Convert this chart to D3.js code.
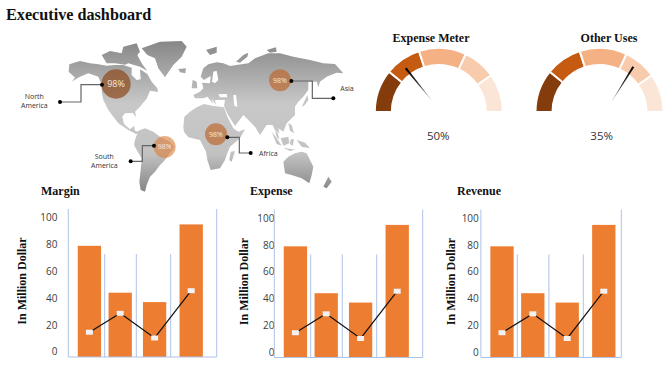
<!doctype html>
<html lang="en">

<head>
    <meta charset="utf-8">
    <title>Executive dashboard</title>
    <script src="https://cdn.jsdelivr.net/npm/d3@7"></script>
    <style>
        body { margin: 0; background: #fff; }
        svg { display: block; }
        .serif { font-family: "Liberation Serif", serif; font-weight: bold; fill: #111; }
        .sans { font-family: "Open Sans", sans-serif; fill: #333; }
    </style>
</head>

<body>
    <svg></svg>
    <script>
        var width = 670;
        var height = 376;

        // column charts, same numbers on all three panels
        var categories = ['A', 'B', 'C', 'D'];
        var yTicks = [0, 20, 40, 60, 80, 100];
        var marginBars = [79, 44, 37, 95];
        var marginLine = [14.5, 28.6, 10.2, 45.5];
        var expenseBars = [79, 44, 37, 95];
        var expenseLine = [14.5, 28.6, 10.2, 45.5];
        var revenueBars = [79, 44, 37, 95];
        var revenueLine = [14.5, 28.6, 10.2, 45.5];

        // gauges: band sizes in degrees of the half circle
        var gaugeBands = [39, 33, 43, 30, 35];
        var gaugeColors = ['#843c0c', '#c55a11', '#f4b183', '#f8cbad', '#fbe5d6'];
        var gaugeNames = ['Expense Meter', 'Other Uses'];
        var gaugeLabels = ['50%', '35%'];
        var needleDegrees = [-39, 31.7];

        // map regions, outlines in map units
        var regionNames = ['North America', 'South America', 'Africa', 'Asia'];
        var regionValues = ['98%', '98%', '98%', '98%'];

        var northAmerica = [[208, 193], [240, 183], [270, 190], [295, 193], [320, 197], [345, 195], [370, 195], [395, 203], [395, 225], [410, 240], [422, 238], [420, 208], [442, 222], [455, 245], [472, 265], [474, 276], [450, 272], [440, 296], [420, 320], [405, 335], [409, 352], [398, 339], [375, 340], [367, 350], [372, 372], [390, 388], [402, 378], [405, 392], [425, 398], [408, 402], [385, 390], [355, 370], [340, 350], [325, 330], [310, 300], [305, 275], [305, 255], [295, 230], [265, 220], [240, 230], [215, 245], [225, 233], [206, 215]];
        var arcticCanada = [[305, 165], [330, 153], [365, 160], [370, 140], [410, 130], [420, 155], [412, 165], [425, 190], [442, 213], [420, 200], [402, 195], [385, 190], [375, 194], [345, 190], [320, 190]];
        var greenland = [[425, 145], [480, 125], [545, 123], [560, 140], [545, 170], [520, 195], [495, 232], [475, 205], [465, 175], [442, 165]];
        var iceland = [[535, 207], [558, 205], [556, 220], [540, 217]];
        var southAmerica = [[405, 420], [415, 392], [435, 385], [460, 395], [480, 410], [510, 425], [523, 440], [510, 460], [495, 480], [480, 495], [465, 515], [450, 530], [440, 555], [435, 575], [422, 570], [418, 545], [422, 510], [425, 475], [410, 450], [402, 435]];
        var africa = [[550, 380], [553, 350], [570, 335], [590, 322], [612, 312], [640, 318], [672, 322], [682, 350], [700, 385], [715, 395], [735, 388], [720, 415], [690, 440], [682, 460], [675, 480], [660, 505], [632, 510], [622, 480], [618, 455], [600, 420], [565, 412], [552, 395]];
        var madagascar = [[692, 455], [705, 453], [695, 485], [688, 480]];
        var eurasia = [[585, 295], [580, 285], [600, 275], [610, 265], [606, 248], [630, 250], [632, 228], [612, 240], [602, 230], [610, 205], [625, 193], [650, 187], [670, 190], [690, 198], [745, 190], [765, 175], [805, 160], [840, 160], [880, 170], [930, 180], [970, 190], [1005, 192], [1030, 220], [1010, 218], [980, 230], [960, 245], [955, 262], [950, 245], [925, 245], [925, 270], [910, 290], [895, 305], [885, 320], [885, 345], [860, 370], [850, 395], [835, 385], [838, 400], [825, 390], [818, 375], [800, 375], [780, 405], [765, 380], [745, 360], [730, 345], [705, 378], [683, 343], [672, 318], [675, 300], [645, 300], [648, 315], [635, 295], [640, 312], [622, 290], [610, 295]];
        var sumatra = [[815, 395], [830, 415], [845, 437], [830, 432]];
        var malay = [[825, 390], [833, 400], [838, 418], [830, 412]];
        var borneo = [[842, 415], [865, 410], [868, 430], [850, 437]];
        var java = [[850, 443], [885, 449], [870, 453]];
        var sulawesi = [[872, 418], [882, 418], [878, 437], [870, 432]];
        var philippines = [[865, 370], [875, 375], [882, 400], [870, 392]];
        var newGuinea = [[890, 420], [915, 428], [930, 445], [905, 440]];
        var australia = [[850, 485], [865, 470], [885, 460], [905, 455], [920, 460], [940, 500], [935, 525], [928, 550], [905, 535], [875, 525], [855, 520]];
        var newZealand = [[985, 530], [995, 545], [980, 565], [970, 560]];
        var japan = [[905, 320], [915, 300], [922, 285], [925, 300], [915, 315]];
        var britain = [[578, 240], [590, 245], [592, 265], [575, 265]];
        var svalbard = [[618, 150], [650, 140], [650, 158], [630, 165]];
        var novaya = [[708, 185], [730, 165], [745, 158], [742, 170], [720, 188]];
        var siberianIslands = [[800, 150], [828, 142], [830, 155], [810, 158]];
        var landShapes = [northAmerica, arcticCanada, greenland, iceland, southAmerica, africa, madagascar, eurasia, sumatra, malay, borneo, java, sulawesi, philippines, newGuinea, australia, newZealand, japan, britain, svalbard, novaya, siberianIslands];

        // inland water painted over the land
        var baltic = [[640, 215], [650, 212], [655, 240], [645, 250], [636, 245]];
        var blackSea = [[655, 283], [680, 282], [682, 292], [660, 292]];
        var caspian = [[700, 285], [708, 285], [712, 320], [703, 318]];
        var waterShapes = [baltic, blackSea, caspian];

        var svg = d3.select('svg').attr('width', width).attr('height', height);
        var defs = svg.append('defs');

        svg.append('text').attr('class', 'serif')
            .attr('x', 6).attr('y', 20)
            .style('font-size', '16.2px')
            .text('Executive dashboard');

        // ---- map ----
        var mapX = d3.scaleLinear().domain([0, 1110]).range([0, 370]);
        var mapY = d3.scaleLinear().domain([0, 570]).range([0, 190]);
        var outline = d3.line()
            .x(function (d) { return mapX(d[0]); })
            .y(function (d) { return mapY(d[1]); })
            .curve(d3.curveLinearClosed);

        var landGrad = defs.append('linearGradient').attr('id', 'land')
            .attr('gradientUnits', 'userSpaceOnUse')
            .attr('x1', 0).attr('x2', 0).attr('y1', 40).attr('y2', 192);
        landGrad.append('stop').attr('offset', '0').attr('stop-color', '#868686');
        landGrad.append('stop').attr('offset', '0.42').attr('stop-color', '#c8c8c8');
        landGrad.append('stop').attr('offset', '0.75').attr('stop-color', '#c2c2c2');
        landGrad.append('stop').attr('offset', '1').attr('stop-color', '#858585');

        svg.append('g').selectAll('path')
            .data(landShapes)
            .enter()
            .append('path')
            .attr('d', outline)
            .attr('fill', 'url(#land)');

        svg.append('g').selectAll('path')
            .data(waterShapes)
            .enter()
            .append('path')
            .attr('d', outline)
            .attr('fill', '#fff');

        var bubbles = [
            { at: [348, 252], r: 44, fill: '#8f4d22', o: 0.74, size: 9 },
            { at: [494, 441], r: 33, fill: '#dc7f3c', o: 0.62, size: 7 },
            { at: [648, 403], r: 33, fill: '#bd6a30', o: 0.7, size: 7 },
            { at: [840, 241], r: 33, fill: '#bd6a30', o: 0.7, size: 7 }
        ];
        var leaders = [
            [[306, 254], [243, 254], [243, 306], [180, 306]],
            [[462, 437], [427, 437], [427, 484], [392, 484]],
            [[682, 412], [718, 412], [718, 459], [752, 459]],
            [[874, 243], [937, 243], [937, 295], [1000, 295]]
        ];
        var nameLines = [
            { at: [103, 290], lines: ['North', 'America'] },
            { at: [313, 469], lines: ['South', 'America'] },
            { at: [805, 460], lines: ['Africa'] },
            { at: [1041, 265], lines: ['Asia'] }
        ];

        regionNames.forEach(function (name, i) {
            var b = bubbles[i];
            svg.append('circle')
                .attr('cx', mapX(b.at[0])).attr('cy', mapY(b.at[1])).attr('r', mapX(b.r))
                .attr('fill', b.fill).attr('fill-opacity', b.o);
            svg.append('text').attr('class', 'sans')
                .attr('x', mapX(b.at[0])).attr('y', mapY(b.at[1]))
                .attr('dy', '0.35em')
                .attr('text-anchor', 'middle')
                .style('font-size', b.size + 'px')
                .style('fill', '#f6e9df')
                .text(regionValues[i]);

            var pts = leaders[i];
            svg.append('path')
                .attr('d', d3.line().x(function (d) { return mapX(d[0]); }).y(function (d) { return mapY(d[1]); })(pts))
                .attr('fill', 'none').attr('stroke', '#666').attr('stroke-width', 1.2);
            [pts[0], pts[3]].forEach(function (p) {
                svg.append('circle')
                    .attr('cx', mapX(p[0])).attr('cy', mapY(p[1])).attr('r', 2)
                    .attr('fill', '#000');
            });

            nameLines[i].lines.forEach(function (t, k) {
                svg.append('text').attr('class', 'sans')
                    .attr('x', mapX(nameLines[i].at[0])).attr('y', mapY(nameLines[i].at[1]) + k * 9)
                    .attr('dy', '0.35em')
                    .attr('text-anchor', 'middle')
                    .style('font-size', '7px')
                    .text(t);
            });
        });

        // ---- gauges ----
        var pie = d3.pie().sort(null)
            .startAngle(-Math.PI / 2).endAngle(Math.PI / 2);
        var arc = d3.arc().innerRadius(47).outerRadius(64);
        var gaugePlaces = [
            { cx: 438.8, cy: 112, titleX: 431, labelX: 438.3, pivot: [-6, -10.3] },
            { cx: 599.5, cy: 112, titleX: 609, labelX: 601.7, pivot: [11.2, -8.7] }
        ];

        var needleGrad = defs.append('linearGradient').attr('id', 'needle')
            .attr('gradientUnits', 'userSpaceOnUse')
            .attr('x1', 0).attr('x2', 0).attr('y1', 0).attr('y2', -43);
        needleGrad.append('stop').attr('offset', '0').attr('stop-color', '#bbb');
        needleGrad.append('stop').attr('offset', '0.5').attr('stop-color', '#333');
        needleGrad.append('stop').attr('offset', '1').attr('stop-color', '#000');

        gaugeNames.forEach(function (name, i) {
            var p = gaugePlaces[i];
            var g = svg.append('g').attr('transform', 'translate(' + p.cx + ',' + p.cy + ')');
            g.selectAll('path')
                .data(pie(gaugeBands))
                .enter()
                .append('path')
                .attr('d', arc)
                .attr('fill', function (d, k) { return gaugeColors[k]; })
                .attr('stroke', '#fff')
                .attr('stroke-width', 2);

            g.append('path')
                .attr('transform', 'translate(' + p.pivot[0] + ',' + p.pivot[1] + ') rotate(' + needleDegrees[i] + ')')
                .attr('d', 'M0,0L1.1,-43L-1.1,-43Z')
                .attr('fill', 'url(#needle)');

            svg.append('text').attr('class', 'serif')
                .attr('x', p.titleX).attr('y', 41.5)
                .attr('text-anchor', 'middle')
                .style('font-size', '12px')
                .text(name);
            svg.append('text').attr('class', 'sans')
                .attr('x', p.labelX).attr('y', 136)
                .attr('dy', '0.35em')
                .attr('text-anchor', 'middle')
                .style('font-size', '11.5px')
                .text(gaugeLabels[i]);
        });

        // ---- column charts ----
        var panels = [
            { title: 'Margin', bars: marginBars, line: marginLine, dx: 0, dy: 0, titleX: 41, axisX: 57.5, nameX: 21.7, lastEdge: 216.7 },
            { title: 'Expense', bars: expenseBars, line: expenseLine, dx: 206, dy: 0.5, titleX: 250, axisX: 274.5, nameX: 243.3, lastEdge: 216.7 },
            { title: 'Revenue', bars: revenueBars, line: revenueLine, dx: 412.6, dy: 0.5, titleX: 457, axisX: 478.8, nameX: 450.7, lastEdge: 208.7 }
        ];

        var yScale = d3.scaleLinear().domain([-4, 100]).range([357, 217.7]);
        var xCenter = d3.scaleOrdinal().domain(categories).range([89.4, 120.2, 154.6, 191.2]);
        var barWidth = 23.3;
        var dividers = [104.7, 136.3, 170.7];
        var chartLine = d3.line()
            .x(function (d) { return xCenter(d.c); })
            .y(function (d) { return yScale(d.v); });

        panels.forEach(function (p) {
            svg.append('text').attr('class', 'serif')
                .attr('x', p.titleX).attr('y', 195)
                .style('font-size', '12px')
                .text(p.title);

            var yAxis = d3.axisLeft(yScale).tickValues(yTicks).tickSize(0).tickPadding(0);
            var axisG = svg.append('g')
                .attr('transform', 'translate(' + p.axisX + ',' + p.dy + ')')
                .call(yAxis);
            axisG.select('.domain').remove();
            axisG.selectAll('text')
                .attr('class', 'sans')
                .style('font-family', '"Open Sans", sans-serif')
                .style('font-size', '10px')
                .style('fill', '#404040');

            svg.append('text').attr('class', 'serif')
                .attr('transform', 'translate(' + p.nameX + ',' + (281 + p.dy) + ') rotate(-90)')
                .attr('text-anchor', 'middle')
                .attr('dy', '0.35em')
                .style('font-size', '12px')
                .text('In Million Dollar');

            var g = svg.append('g').attr('transform', 'translate(' + p.dx + ',' + p.dy + ')');

            g.selectAll('rect.bar')
                .data(p.bars)
                .enter()
                .append('rect')
                .attr('class', 'bar')
                .attr('x', function (d, i) { return xCenter(categories[i]) - barWidth / 2; })
                .attr('width', barWidth)
                .attr('y', function (d) { return yScale(d); })
                .attr('height', function (d) { return yScale(-4) - yScale(d); })
                .attr('fill', '#ed7d31');

            var frame = g.append('g').attr('stroke', '#aec3e8').attr('stroke-width', 1).attr('fill', 'none');
            frame.append('line').attr('x1', 68.3).attr('x2', 68.3).attr('y1', 209).attr('y2', yScale(-4));
            frame.append('line').attr('x1', p.lastEdge).attr('x2', p.lastEdge).attr('y1', 209).attr('y2', yScale(-4));
            frame.append('line').attr('x1', 68.3).attr('x2', p.lastEdge).attr('y1', yScale(-4)).attr('y2', yScale(-4));
            dividers.forEach(function (x) {
                frame.append('line').attr('x1', x).attr('x2', x).attr('y1', 254).attr('y2', yScale(-4));
            });

            var linePts = p.line.map(function (v, i) { return { c: categories[i], v: v }; });
            g.append('path')
                .attr('d', chartLine(linePts))
                .attr('fill', 'none')
                .attr('stroke', '#111')
                .attr('stroke-width', 1.2);
            g.selectAll('rect.mark')
                .data(linePts)
                .enter()
                .append('rect')
                .attr('class', 'mark')
                .attr('x', function (d) { return xCenter(d.c) - 3.5; })
                .attr('y', function (d) { return yScale(d.v) - 2.5; })
                .attr('width', 7)
                .attr('height', 5)
                .attr('fill', '#f2f2f2');
        });
    </script>

</body>

</html>
